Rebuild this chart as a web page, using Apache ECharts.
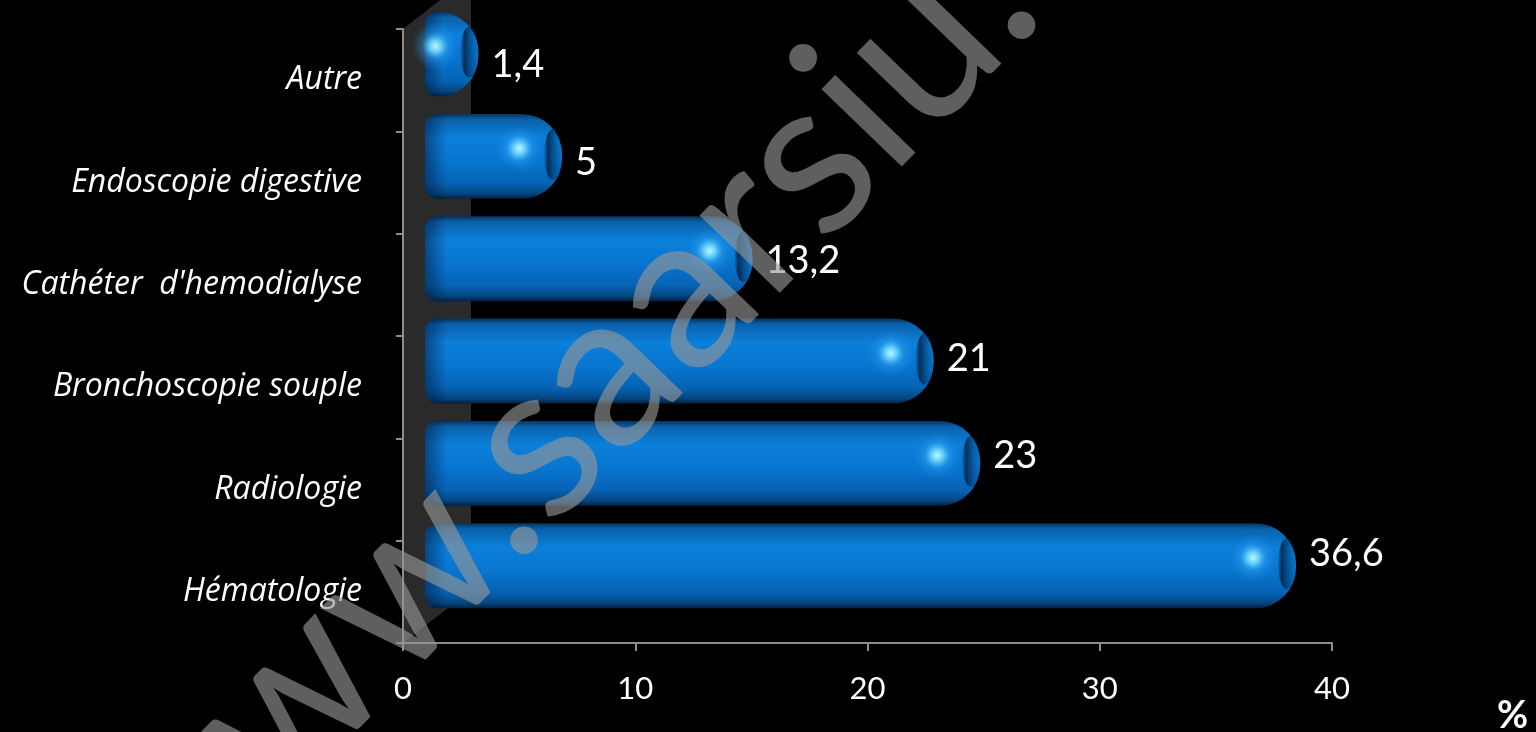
<!DOCTYPE html>
<html>
<head>
<meta charset="utf-8">
<script src="https://cdn.jsdelivr.net/npm/echarts@6/dist/echarts.min.js"></script>
<style>
html,body{margin:0;padding:0;background:#000;}
#chart{width:1536px;height:732px;}
</style>
</head>
<body>
<div id="chart"></div>
<script>
// ---- data ----
const categories = ["Hématologie", "Radiologie", "Bronchoscopie souple", "Cathéter  d'hemodialyse", "Endoscopie digestive", "Autre"];
const values = [36.6, 23, 21, 13.2, 5, 1.4];
const xMin = 0, xMax = 40, xInterval = 10;
const unitLabel = "%";
const watermarkLeft = "www.";
const watermarkRight = "saarsiu.";

const chart = echarts.init(document.getElementById('chart'));
const FONT = "Lato, 'Open Sans', sans-serif";
const CAT_FONT = "'Open Sans', Lato, sans-serif";

function fmt(v){ return String(v).replace('.', ','); }

function renderBar(params, api){
  const v = api.value(0);
  const ci = api.value(1);
  const p0 = api.coord([0, ci]);
  const pv = api.coord([v, ci]);
  const p1 = api.coord([1, ci]);
  const unit = p1[0] - p0[0];
  const band = api.size([0, 1])[1];
  const h = band * 0.83;
  const cy = p0[1] - band * 0.255;
  const xs = p0[0] + unit * 0.95;
  const xe = pv[0] + unit * 1.85;
  const w = xe - xs;
  const rr = Math.min(h / 2 - 2, w - 10);
  const lr = Math.min(12, w - rr);
  const n = categories.length - 1;
  const ly = p0[1] - band * (0.15 + 0.22 * (1 - ci / n));
  const erx = Math.min(9, w * 0.18);
  return {
    type: 'group',
    children: [
      {
        type: 'rect',
        shape: {x: xs, y: cy - h / 2, width: w, height: h, r: [lr, rr, rr, lr]},
        style: {
          fill: new echarts.graphic.LinearGradient(0, 0, 0, 1, [
            {offset: 0, color: '#05335c'},
            {offset: 0.07, color: '#0a62ac'},
            {offset: 0.28, color: '#0b7fda'},
            {offset: 0.55, color: '#0876d0'},
            {offset: 0.82, color: '#0662b3'},
            {offset: 0.94, color: '#04457f'},
            {offset: 1, color: '#022240'}
          ])
        }
      },
      {
        type: 'rect',
        shape: {x: xs, y: cy - h / 2, width: Math.min(22, w / 3), height: h, r: [lr, 0, 0, lr]},
        style: {
          fill: new echarts.graphic.LinearGradient(0, 0, 1, 0, [
            {offset: 0, color: 'rgba(0,20,50,0.5)'},
            {offset: 1, color: 'rgba(0,20,50,0)'}
          ])
        }
      },
      {
        type: 'ellipse',
        shape: {cx: xe - erx, cy: cy - 2, rx: erx, ry: h * 0.3},
        style: {
          fill: new echarts.graphic.LinearGradient(0, 0, 1, 0, [
            {offset: 0, color: 'rgba(0,20,45,0.1)'},
            {offset: 0.22, color: 'rgba(0,22,48,0.75)'},
            {offset: 0.55, color: 'rgba(1,40,80,0.45)'},
            {offset: 1, color: 'rgba(3,70,130,0.1)'}
          ])
        }
      },
      {
        type: 'circle',
        shape: {cx: pv[0], cy: cy - 8, r: 24},
        style: {
          fill: new echarts.graphic.RadialGradient(0.5, 0.5, 0.5, [
            {offset: 0, color: 'rgba(190,248,255,1)'},
            {offset: 0.25, color: 'rgba(110,215,255,0.9)'},
            {offset: 0.55, color: 'rgba(50,165,245,0.4)'},
            {offset: 1, color: 'rgba(30,140,230,0)'}
          ])
        }
      },
      {
        type: 'text',
        style: {
          text: fmt(v), x: xe + 13, y: ly,
          fill: '#ffffff', font: "38px " + FONT,
          align: 'left', verticalAlign: 'middle',
          textAlign: 'left', textVerticalAlign: 'middle'
        }
      }
    ]
  };
}

const grid = {left: 403, right: 204, top: 29, bottom: 89};

chart.setOption({
  backgroundColor: '#000000',
  animation: false,
  grid: grid,
  xAxis: {
    type: 'value', min: xMin, max: xMax, interval: xInterval,
    splitLine: {show: false},
    axisLine: {show: true, lineStyle: {color: '#8c8c8c', width: 2}},
    axisTick: {show: true, length: 8, lineStyle: {color: '#8c8c8c', width: 2}},
    axisLabel: {color: '#ffffff', fontSize: 31, fontFamily: FONT, margin: 30}
  },
  yAxis: {
    type: 'category', data: categories,
    axisLine: {show: true, lineStyle: {color: '#8c8c8c', width: 2}},
    axisTick: {show: true, length: 7, lineStyle: {color: '#8c8c8c', width: 2}},
    axisLabel: {color: '#ffffff', fontSize: 32, fontStyle: 'italic', fontFamily: CAT_FONT, margin: 41}
  },
  series: [{
    type: 'custom',
    renderItem: renderBar,
    encode: {x: 0, y: 1},
    data: values.map((v, i) => [v, i]),
    z: 3
  }]
});

// back wall (decoration), positioned from axis scale
const x0 = chart.convertToPixel({xAxisIndex: 0}, 0);
const xw = chart.convertToPixel({xAxisIndex: 0}, 2.93);
const yTop = grid.top, yBot = 732 - grid.bottom;
const dy = (xw - x0) * 0.78;

const wmRot = 46 * Math.PI / 180;
const wmX = 579, wmY = 557;
const wmStyle = {fill: 'rgba(150,150,150,0.63)', font: "220px " + FONT, verticalAlign: 'bottom', textVerticalAlign: 'bottom'};

chart.setOption({
  graphic: [
    {
      type: 'polygon', z: -1, silent: true,
      shape: {points: [[x0, yTop], [xw, yTop - dy], [xw, yBot - dy], [x0, yBot]]},
      style: {fill: '#2a2a2a'}
    },
    {
      type: 'text', z: 100, silent: true,
      x: wmX, y: wmY, rotation: wmRot,
      style: Object.assign({text: watermarkLeft, align: 'right', textAlign: 'right'}, wmStyle)
    },
    {
      type: 'text', z: 100, silent: true,
      x: wmX, y: wmY, rotation: wmRot,
      style: Object.assign({text: watermarkRight, align: 'left', textAlign: 'left'}, wmStyle)
    },
    {
      type: 'text', z: 100, silent: true,
      x: 1497, y: 716,
      style: {
        text: unitLabel, fill: '#ffffff', font: "bold 38px " + FONT,
        align: 'left', verticalAlign: 'middle',
        textAlign: 'left', textVerticalAlign: 'middle'
      }
    }
  ]
});
</script>
</body>
</html>
